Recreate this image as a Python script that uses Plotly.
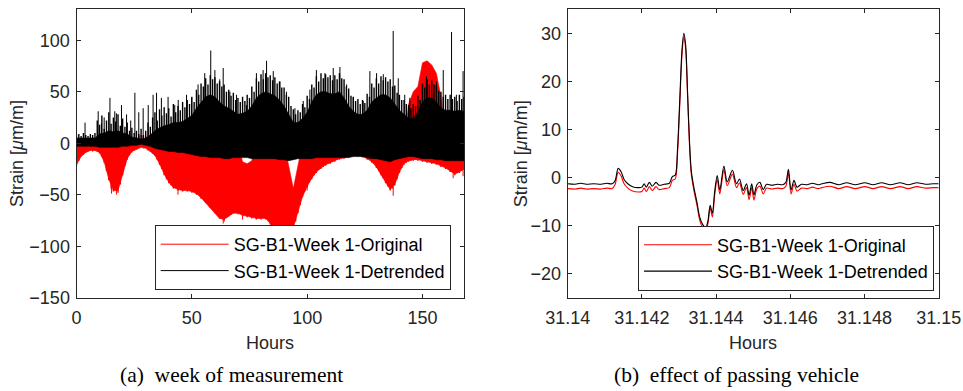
import plotly.graph_objects as go

# ---------------- (a) week of measurement ----------------
# band envelopes read every 2 hours
hours = [0, 2, 4, 6, 8, 10, 12, 14, 16, 18, 20, 22, 24, 26, 28, 30, 32, 34, 36, 38, 40,
         42, 44, 46, 48, 50, 52, 54, 56, 58, 60, 62, 64, 66, 68, 70, 72, 74, 76, 78, 80,
         82, 84, 86, 88, 90, 92, 94, 96, 98, 100, 102, 104, 106, 108, 110, 112, 114, 116,
         118, 120, 122, 124, 126, 128, 130, 132, 134, 136, 138, 140, 142, 144, 146, 148,
         150, 152, 154, 156, 158, 160, 162, 164, 166, 168]

detr_core_top = [5, 5, 5, 5, 5, 9, 10, 12, 11, 12, 10, 9, 6, 5, 4, 5, 8, 12, 15, 17,
                 18, 20, 20, 21, 24, 27, 34, 40, 45, 47, 45, 40, 36, 34, 31, 28, 29, 31, 36, 44,
                 48, 50, 48, 46, 42, 36, 28, 20, 20, 24, 30, 40, 47, 50, 50, 48, 48, 50, 44, 36,
                 31, 28, 28, 32, 40, 44, 47, 47, 44, 38, 32, 28, 24, 24, 30, 40, 44, 44, 40, 34,
                 32, 32, 31, 32, 31]
detr_bot = [-3, -3, -3, -3, -3, -4, -4, -4, -4, -4, -3, -3, -2, -2, -1, -2, -3, -5, -6, -7, -8,
            -8, -9, -9, -10, -11, -12, -13, -13, -14, -14, -14, -15, -15, -14, -14, -14, -14, -15, -15, -15,
            -15, -15, -15, -16, -16, -17, -16, -15, -15, -15, -15, -14, -14, -14, -14, -14, -14, -14,
            -14, -13, -13, -13, -14, -15, -15, -16, -17, -18, -16, -15, -14, -13, -13, -14,
            -15, -15, -15, -16, -16, -17, -17, -17, -17, -17]
orig_top = [0, 0, 0, 0, 0, 0, 0, 0, 0, 0, 0, 0, 0, 0, 0, 0, 0, 0, 0, 0, 0,
            0, 0, 0, 0, 0, 0, 0, 0, 0, 0, 0, 0, 0, 0, 0, -18, -20, -17, 0, 0,
            0, 0, 0, 0, 0, -22, -44, -22, 0, 0, 0, 0, 0, 0, 0, 0, 0, 0,
            0, 0, 0, 0, 0, 0, 0, 0, 0, 0, 0, 0, 0, 38, 50, 55,
            78, 80, 76, 68, 45, 0, 0, 0, 0, 0]
orig_bot = [-21, -13, -9, -7, -7, -9, -18, -35, -46, -46, -30, -15, -8, -6, -4, -5, -8, -12, -20, -30, -38,
            -43, -45, -46, -46, -47, -49, -53, -57, -63, -68, -73, -74, -71, -68, -68, -70, -71, -72, -73, -73,
            -73, -78, -85, -90, -90, -88, -82, -68, -52, -42, -34, -28, -24, -21, -19, -17, -15, -14,
            -13, -12, -12, -13, -15, -18, -23, -30, -38, -45, -40, -28, -20, -17, -16, -16,
            -17, -18, -19, -20, -22, -24, -27, -30, -28, -25]

# hourly extremes (jagged edges of the bands)
hours_1h = list(range(0, 169))
detr_hour_max = [8, 9, 7, 10, 8, 7, 9, 8, 10, 22,
                 18, 27, 14, 22, 30, 19, 25, 21, 28, 17,
                 24, 16, 20, 12, 15, 10, 12, 9, 14, 8,
                 12, 20, 16, 25, 30, 22, 33, 27, 35, 29,
                 34, 26, 38, 30, 36, 32, 40, 35, 42, 38,
                 45, 40, 52, 47, 58, 55, 63, 57, 66, 62,
                 64, 58, 60, 55, 57, 50, 52, 46, 49, 42,
                 44, 40, 45, 41, 47, 44, 55, 50, 63, 60,
                 67, 62, 68, 64, 66, 61, 64, 58, 60, 54,
                 54, 47, 45, 36, 33, 28, 32, 30, 38, 35,
                 46, 43, 57, 54, 65, 60, 68, 63, 67, 64,
                 66, 61, 66, 62, 68, 63, 62, 55, 53, 46,
                 45, 41, 43, 38, 42, 39, 48, 45, 58, 54,
                 63, 58, 65, 61, 64, 60, 62, 55, 56, 49,
                 47, 42, 42, 38, 37, 34, 38, 36, 46, 42,
                 58, 54, 62, 57, 61, 57, 57, 51, 50, 45,
                 47, 43, 47, 43, 45, 41, 47, 43, 45]
orig_hour_min = [-22, -17, -13, -11, -9, -8, -7, -8, -7, -8,
                 -10, -13, -19, -27, -36, -44, -47, -43, -48, -40,
                 -31, -22, -16, -11, -9, -7, -6, -5, -4, -5,
                 -5, -7, -8, -10, -12, -16, -21, -25, -31, -35,
                 -39, -41, -44, -42, -46, -43, -47, -44, -47, -45,
                 -48, -46, -50, -48, -54, -51, -58, -55, -63, -60,
                 -68, -65, -73, -70, -76, -72, -71, -69, -68, -66,
                 -69, -66, -71, -68, -72, -69, -73, -70, -74, -71,
                 -74, -71, -74, -72, -79, -80, -86, -84, -90, -88,
                 -90, -89, -88, -86, -83, -76, -68, -60, -52, -47,
                 -43, -38, -35, -31, -29, -26, -25, -23, -22, -20,
                 -20, -18, -18, -16, -16, -15, -15, -14, -14, -13,
                 -13, -12, -13, -12, -14, -13, -16, -15, -19, -20,
                 -24, -27, -31, -34, -39, -42, -46, -44, -41, -35,
                 -29, -24, -21, -19, -18, -17, -17, -16, -17, -16,
                 -18, -17, -19, -18, -20, -19, -21, -20, -23, -22,
                 -25, -24, -28, -27, -31, -29, -29, -27, -26]

# individual peaks standing out of the bands
detr_spike_h = [3.7, 9.4, 10.8, 12.0, 14.5, 16.6, 17.3, 19.5, 21.7, 23.5, 25.3, 27.0, 28.9, 31.1,
                33.2, 34.7, 36.8, 39.7, 42.6, 44.1, 47.7, 49.9, 52.7, 55.6, 58.2, 60.0, 62.1,
                63.6, 66.5, 69.4, 73.7, 78.0, 80.9, 82.4, 85.3, 88.2, 91.0, 94.7, 98.3, 101.2,
                104.0, 107.7, 111.3, 114.2, 117.1, 120.0, 124.3, 127.2, 130.1, 133.0, 137.3,
                139.5, 142.3, 144.5, 151.7, 156.1, 159.0, 162.6, 164.7, 167.6]
detr_spike_v = [20, 31, 19, 25, 44, 31, 29, 37, 28, 22, 49, 30, 34, 37,
                47, 49, 44, 45, 37, 42, 47, 44, 57, 68, 90, 71, 62,
                73, 50, 47, 37, 68, 71, 80, 70, 60, 50, 34, 41, 52,
                71, 68, 73, 74, 57, 44, 41, 70, 68, 67, 109,
                63, 47, 44, 65, 60, 71, 108, 47, 70]
orig_spike_h = [15.2, 17.3, 44.0, 58.0, 63.6, 72.0, 100.0, 131.0, 137.3, 163.3, 167.6]
orig_spike_v = [-49, -50, -50, -62, -78, -74, -46, -27, -51, -34, -32]

# ---------------- (b) effect of passing vehicle ----------------
t_vehicle = [31.14000, 31.14020, 31.14035, 31.14050, 31.14070, 31.14090, 31.14105, 31.14120,
             31.14128, 31.14136, 31.14144, 31.14152, 31.14162, 31.14175, 31.14190, 31.14200,
             31.14206, 31.14212, 31.14220, 31.14228, 31.14238, 31.14246, 31.14260, 31.14274,
             31.14282, 31.14290, 31.14296, 31.14302, 31.14308, 31.14313, 31.14318, 31.14323,
             31.14328, 31.14333, 31.14340, 31.14348, 31.14356, 31.14364, 31.14372, 31.14378,
             31.14384, 31.14390, 31.14396, 31.14403, 31.14410, 31.14421, 31.14430, 31.14444,
             31.14455, 31.14463, 31.14473, 31.14482, 31.14489, 31.14496, 31.14502, 31.14510,
             31.14518, 31.14527, 31.14536, 31.14550, 31.14565, 31.14580, 31.14588, 31.14595,
             31.14602, 31.14610, 31.14618, 31.14630, 31.14645, 31.14660, 31.14675, 31.14685,
             31.14707, 31.14730, 31.14752, 31.14775, 31.14801, 31.14823, 31.14846, 31.14870,
             31.14896, 31.14918, 31.14941, 31.14965, 31.14985, 31.15000]
veh_detr = [-1.3, -1.4, -1.2, -1.4, -1.3, -1.4, -1.2, -1.3,
            -0.6, 1.9, 1.2, -0.4, -1.3, -1.9, -2.1, -2.0,
            -1.3, -2.0, -1.0, -1.8, -1.0, -1.6, -1.4, -1.2,
            0.2, 0.5, 6.0, 16.0, 26.5, 30.0, 27.5, 18.0,
            8.0, 1.5, -2.0, -5.0, -8.3, -9.8, -10.4, -9.0,
            -5.8, -7.4, -3.0, 0.4, -2.6, 2.4, -0.9, 1.5,
            -1.3, -0.3, -2.7, -1.3, -3.7, -1.3, -3.6, -1.5,
            -1.0, -2.5, -1.4, -1.6, -1.4, -1.5, -1.0, 1.7,
            -2.6, -0.6, -2.0, -1.4, -1.5, -1.2, -1.5, -1.3,
            -1.0, -1.5, -1.1, -1.5, -1.1, -1.5, -1.1, -1.5,
            -1.1, -1.5, -1.1, -1.4, -1.3, -1.3]
veh_orig = [-2.3, -2.4, -2.2, -2.4, -2.3, -2.4, -2.2, -2.3,
            -1.4, 1.1, 0.3, -1.3, -2.2, -2.8, -3.0, -2.9,
            -2.2, -2.9, -1.9, -2.7, -1.9, -2.5, -2.3, -2.1,
            -0.6, -0.3, 5.0, 15.0, 25.5, 29.2, 26.7, 17.2,
            7.2, 0.8, -2.6, -5.6, -8.9, -10.4, -10.9, -9.6,
            -6.3, -8.2, -3.8, -0.4, -3.4, 1.6, -1.7, 0.7,
            -2.1, -1.1, -3.5, -2.1, -4.6, -2.1, -4.7, -2.3,
            -1.8, -3.4, -2.2, -2.4, -2.2, -2.3, -1.8, 0.9,
            -3.4, -1.4, -2.8, -2.2, -2.3, -2.0, -2.3, -2.1,
            -1.8, -2.3, -1.9, -2.3, -1.9, -2.3, -1.9, -2.3,
            -1.9, -2.3, -1.9, -2.2, -2.1, -2.1]

ticks_a_x = [0, 50, 100, 150]
ticks_a_y = [-150, -100, -50, 0, 50, 100]
ticks_b_x = [31.14, 31.142, 31.144, 31.146, 31.148, 31.15]
ticks_b_x_text = ["31.14", "31.142", "31.144", "31.146", "31.148", "31.15"]
ticks_b_y = [-20, -10, 0, 10, 20, 30]

name_orig = "SG-B1-Week 1-Original"
name_detr = "SG-B1-Week 1-Detrended"

RED = "#ff0000"
BLK = "#000000"
AX = "#262626"
SANS = "Liberation Sans, Arial, Helvetica, sans-serif"
SERIF = "Liberation Serif, Times New Roman, serif"
W, H = 963, 391
STUB = 12   # drawn length of the jagged-edge strokes of the original band
FS = 18


def segments(xs, y0s, y1s):
    sx, sy = [], []
    for x, a, b in zip(xs, y0s, y1s):
        sx += [x, x, None]
        sy += [a, b, None]
    return sx, sy


fig = go.Figure()

# --- panel (a): Original (red) ---
fig.add_trace(go.Scatter(x=hours + hours[::-1], y=orig_top + orig_bot[::-1], fill="toself",
                         fillcolor=RED, line=dict(color=RED, width=0.6), mode="lines",
                         showlegend=False, hoverinfo="skip", xaxis="x", yaxis="y"))
sx, sy = segments(hours_1h, orig_hour_min, [v + STUB for v in orig_hour_min])
fig.add_trace(go.Scatter(x=sx, y=sy, mode="lines", line=dict(color=RED, width=1.4),
                         showlegend=False, hoverinfo="skip", xaxis="x", yaxis="y"))
sx, sy = segments(orig_spike_h, [v + STUB for v in orig_spike_v], orig_spike_v)
fig.add_trace(go.Scatter(x=sx, y=sy, mode="lines", line=dict(color=RED, width=1),
                         name=name_orig, legend="legend", xaxis="x", yaxis="y"))

# --- panel (a): Detrended (black) ---
fig.add_trace(go.Scatter(x=hours + hours[::-1], y=detr_core_top + detr_bot[::-1], fill="toself",
                         fillcolor=BLK, line=dict(color=BLK, width=0.6), mode="lines",
                         showlegend=False, hoverinfo="skip", xaxis="x", yaxis="y"))
sx, sy = segments(hours_1h, [0] * len(hours_1h), detr_hour_max)
fig.add_trace(go.Scatter(x=sx, y=sy, mode="lines", line=dict(color=BLK, width=1.4),
                         showlegend=False, hoverinfo="skip", xaxis="x", yaxis="y"))
sx, sy = segments(detr_spike_h, [0] * len(detr_spike_h), detr_spike_v)
fig.add_trace(go.Scatter(x=sx, y=sy, mode="lines", line=dict(color=BLK, width=1),
                         name=name_detr, legend="legend", xaxis="x", yaxis="y"))

# --- panel (b) ---
fig.add_trace(go.Scatter(x=t_vehicle, y=veh_orig, mode="lines",
                         line=dict(color=RED, width=1.1, shape="spline", smoothing=0.8),
                         name=name_orig, legend="legend2", xaxis="x2", yaxis="y2"))
fig.add_trace(go.Scatter(x=t_vehicle, y=veh_detr, mode="lines",
                         line=dict(color=BLK, width=1.1, shape="spline", smoothing=0.8),
                         name=name_detr, legend="legend2", xaxis="x2", yaxis="y2"))

axis_common = dict(showgrid=False, zeroline=False, showline=True, linecolor=AX, linewidth=1,
                   mirror="ticks", ticks="inside", ticklen=4, tickcolor=AX, tickwidth=1,
                   automargin=False,
                   tickfont=dict(family=SANS, size=FS, color=AX))

ydom = [1 - 297.7 / H, 1 - 9.3 / H]
legend_common = dict(xanchor="right", yanchor="middle", bgcolor="white", bordercolor=AX,
                     borderwidth=1, itemwidth=68, tracegroupgap=0,
                     font=dict(family=SANS, size=FS, color=BLK))
fig.update_layout(
    width=W, height=H, margin=dict(l=0, r=0, t=0, b=0, autoexpand=False),
    paper_bgcolor="white", plot_bgcolor="white",
    xaxis=dict(domain=[76.5 / W, 464 / W], range=[0, 168], tickvals=ticks_a_x,
               anchor="y", ticklabelstandoff=4, **axis_common),
    yaxis=dict(domain=ydom, range=[-150, 130], tickvals=ticks_a_y, anchor="x",
               ticklabelstandoff=2, **axis_common),
    xaxis2=dict(domain=[567.7 / W, 938.7 / W], range=[31.14, 31.15], tickvals=ticks_b_x,
                ticktext=ticks_b_x_text, anchor="y2", ticklabelstandoff=4, **axis_common),
    yaxis2=dict(domain=ydom, range=[-25, 35], tickvals=ticks_b_y, anchor="x2",
                ticklabelstandoff=2, **axis_common),
    legend=dict(x=450.7 / W, y=1 - 257.5 / H, **legend_common),
    legend2=dict(x=934 / W, y=1 - 258 / H, **legend_common),
    showlegend=True,
)

ann_font = dict(family=SANS, size=FS, color=AX)
ylab = "Strain [<i>μ</i>m/m]"


def label(x, y, text, font, angle=0):
    fig.add_annotation(x=x / W, y=1 - y / H, xref="paper", yref="paper", text=text,
                       textangle=angle, showarrow=False, font=font,
                       xanchor="center", yanchor="middle")


label(17.5, 153.5, ylab, ann_font, -90)
label(521.7, 153.5, ylab, ann_font, -90)
label(270, 343, "Hours", ann_font)
label(753, 343, "Hours", ann_font)
cap_font = dict(family=SERIF, size=21.5, color=BLK)
label(231, 375, "(a)\u2002week of measurement", cap_font)
label(736, 375, "(b)\u2002effect of passing vehicle", cap_font)

fig.write_html("out.html")
